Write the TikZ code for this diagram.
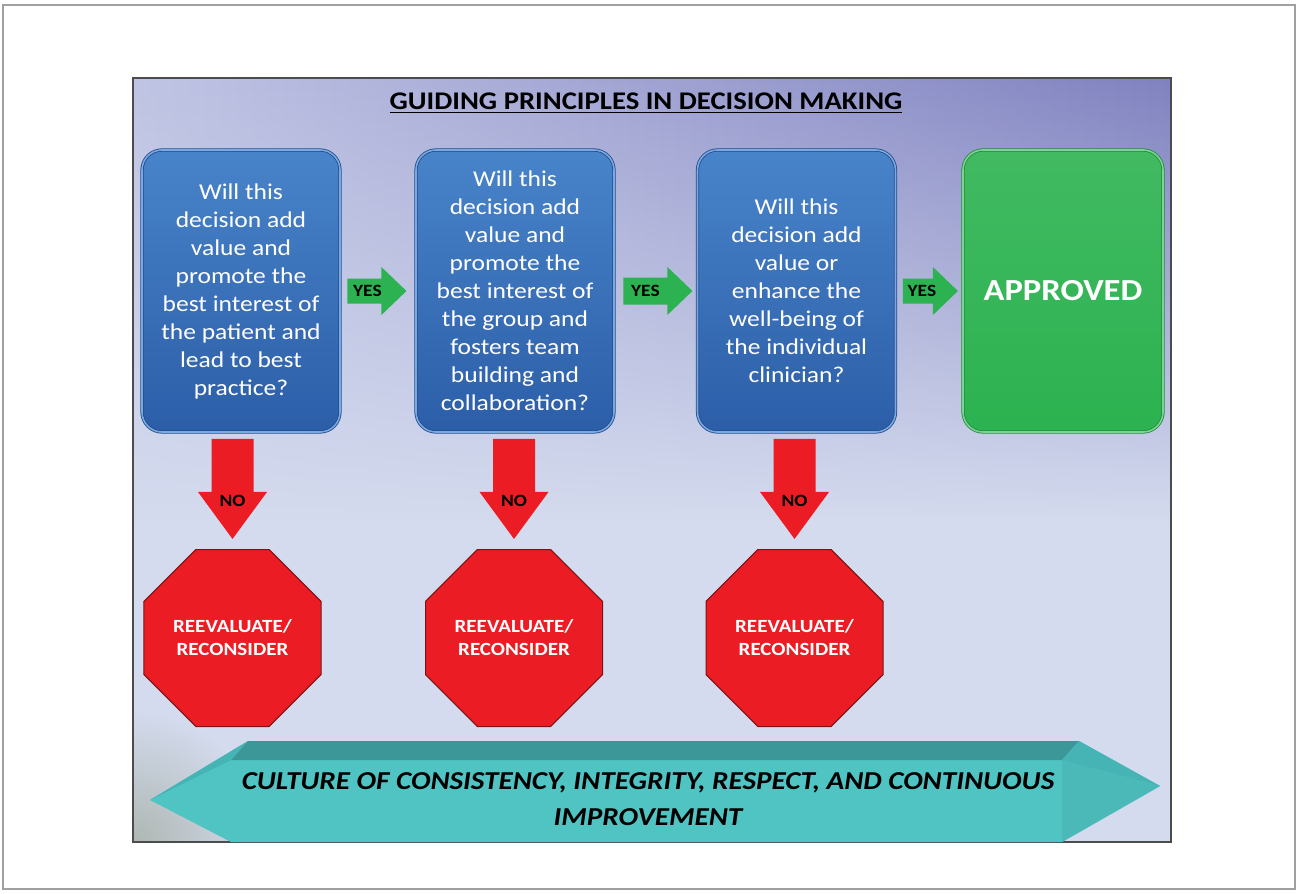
\documentclass[tikz,border=0pt]{standalone}
\usepackage{fontspec}
\setmainfont{Carlito}[FakeStretch=1.13]
\usetikzlibrary{shapes.geometric}
\usetikzlibrary{calc, fadings}
\definecolor{rahmen}{RGB}{160,160,160}
\definecolor{grund}{RGB}{212,219,238}
\definecolor{lila-hell}{RGB}{192,196,228}
\definecolor{lila}{RGB}{128,130,192}
\definecolor{blau-hell}{RGB}{72,132,202}
\definecolor{blau}{RGB}{44,94,168}
\definecolor{blau-rand}{RGB}{34,74,138}
\definecolor{blau-licht}{RGB}{120,170,225}
\definecolor{gruen}{RGB}{44,178,80}
\definecolor{gruen-rand}{RGB}{30,140,60}
\definecolor{rot}{RGB}{236,28,36}
\definecolor{rot-rand}{RGB}{120,20,20}
\definecolor{tuerkis}{RGB}{80,195,195}
\definecolor{tuerkis-dunkel}{RGB}{60,152,152}
\definecolor{tuerkis-mittel}{RGB}{70,180,180}
\definecolor{eckgruen}{RGB}{150,160,140}
\tikzfading[name=oben, top color=transparent!0, bottom color=transparent!100]
\tikzfading[name=ecke, inner color=transparent!40, outer color=transparent!100]

\begin{document}
\begin{tikzpicture}[x=0.5pt, y=-0.5pt,
    frage/.style={rectangle, rounded corners=10pt, minimum width=99pt, minimum height=141pt,
        top color=blau-hell, bottom color=blau, draw=blau-rand, double=blau-licht, double distance=0.8pt,
        text=white, align=center, inner sep=0pt, font=\fontsize{11.3}{14}\selectfont},
    stopp/.style={regular polygon, regular polygon sides=8, minimum size=95.8pt, inner sep=0pt,
        fill=rot, draw=rot-rand, line width=0.5pt, text=white, align=center,
        font=\bfseries\fontsize{9.3}{11.5}\selectfont},
    pfeiltext/.style={inner sep=0pt, font=\bfseries\fontsize{8.6}{10}\selectfont}]

    \useasboundingbox (0,0) rectangle (1299,893);
    \draw[rahmen, line width=0.6pt] (3,5) rectangle (1295,889);

    % Hintergrund
    \begin{scope}
        \clip (133,78) rectangle (1171,842);
        \fill[grund] (133,78) rectangle (1171,842);
        \shade[left color=lila-hell, right color=lila, path fading=oben] (133,78) rectangle (1171,520);
        \fill[eckgruen, path fading=ecke] (133,842) circle (130);
    \end{scope}
    \draw[black!70, line width=0.6pt] (133,78) rectangle (1171,842);

    \node[font=\bfseries\fontsize{12.7}{15}\selectfont] (titel) at (646,103) {\underline{GUIDING PRINCIPLES IN DECISION MAKING}};

    \node[frage] (q1) at (241,291) {Will this\\decision add\\value and\\promote the\\best interest of\\the patient and\\lead to best\\practice?};
    \node[frage] (q2) at (515,291) {Will this\\decision add\\value and\\promote the\\best interest of\\the group and\\fosters team\\building and\\collaboration?};
    \node[frage] (q3) at (796.5,291) {Will this\\decision add\\value or\\enhance the\\well-being of\\the individual\\clinician?};
    \node[frage, minimum width=100pt, top color=gruen!90!white, bottom color=gruen, draw=gruen-rand, double=gruen!60!white,
        font=\bfseries\fontsize{15.3}{18}\selectfont] (ok) at (1063,291) {APPROVED};

    \node[stopp] (s1) at (232.5,638) {REEVALUATE/\\RECONSIDER};
    \node[stopp] (s2) at (514,638) {REEVALUATE/\\RECONSIDER};
    \node[stopp] (s3) at (794.5,638) {REEVALUATE/\\RECONSIDER};

    % YES
    \begin{scope}[shift={(q1.east)}]
        \fill[gruen] (7,-12.5) -- (41,-12.5) -- (41,-24) -- (66,0) -- (41,24) -- (41,12.5) -- (7,12.5) -- cycle;
        \node[pfeiltext] (ja1) at (27,0) {YES};
    \end{scope}
    \begin{scope}[shift={(q2.east)}]
        \fill[gruen] (9,-13.5) -- (53,-13.5) -- (53,-24) -- (78,0) -- (53,24) -- (53,13.5) -- (9,13.5) -- cycle;
        \node[pfeiltext] (ja2) at (31,0) {YES};
    \end{scope}
    \begin{scope}[shift={(q3.east)}]
        \fill[gruen] (7,-12.5) -- (37,-12.5) -- (37,-24) -- (62,0) -- (37,24) -- (37,12.5) -- (7,12.5) -- cycle;
        \node[pfeiltext] (ja3) at (26,0) {YES};
    \end{scope}

    % NO
    \foreach \s/\n in {s1/nein1, s2/nein2, s3/nein3}{
        \begin{scope}[shift={(\s.north)}]
            \fill[rot] (-21,-110) -- (21,-110) -- (21,-57) -- (34.5,-57) -- (0,-10) -- (-34.5,-57) -- (-21,-57) -- cycle;
            \node[pfeiltext] (\n) at (0,-48) {NO};
        \end{scope}
    }

    % Kultur
    \fill[tuerkis] (150,800) -- (248,741) -- (1079,741) -- (1160,786) -- (1062,842) -- (231,842) -- cycle;
    \fill[tuerkis-dunkel] (248,741) -- (1079,741) -- (1062,760) -- (231,760) -- cycle;
    \fill[tuerkis-mittel] (150,800) -- (248,741) -- (231,760) -- cycle;
    \fill[tuerkis-mittel] (1079,741) -- (1160,786) -- (1062,760) -- cycle;
    \fill[tuerkis!95!black] (1160,786) -- (1062,760) -- (1062,842) -- cycle;
    \node[align=center, font=\bfseries\itshape\fontsize{12.9}{18}\selectfont] (kultur) at (648,799)
        {CULTURE OF CONSISTENCY, INTEGRITY, RESPECT, AND CONTINUOUS\\IMPROVEMENT};

\end{tikzpicture}
\end{document}
